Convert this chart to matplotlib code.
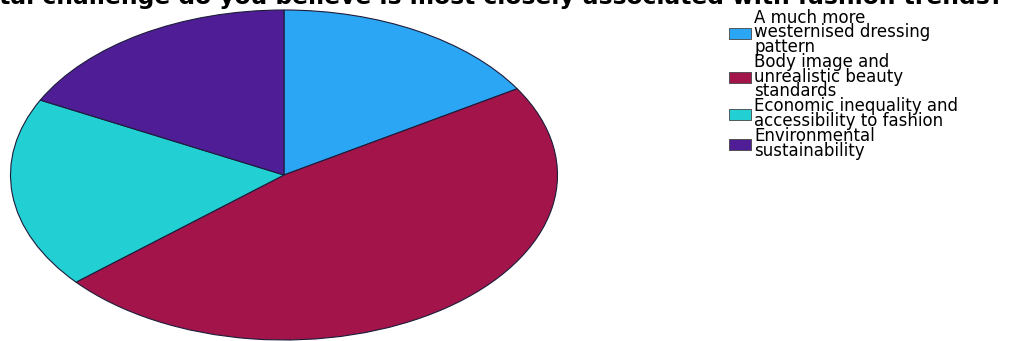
import matplotlib
matplotlib.use('Agg')
import matplotlib.pyplot as plt

TITLE = 'Which societal challenge do you believe is most closely associated with fashion trends?'

labels = [
    'A much more\nwesternised dressing\npattern',
    'Body image and\nunrealistic beauty\nstandards',
    'Economic inequality and\naccessibility to fashion',
    'Environmental\nsustainability',
]
counts = [13, 38, 15, 14]
colors = ['#2ba6f5', '#a3154a', '#22cfd2', '#4f1e96']


def main():
    fig = plt.figure(figsize=(10.09, 3.41), dpi=100)
    ax = fig.add_axes([10.5 / 1009, 1 / 341, 547 / 1009, 330 / 341])

    wedges, _ = ax.pie(counts, colors=colors, startangle=90, counterclock=False,
                       wedgeprops=dict(edgecolor='#1c1c3a', linewidth=0.8))
    # stretch the pie into the wide ellipse
    ax.set_aspect('auto')
    ax.set_xlim(-1, 1)
    ax.set_ylim(-1, 1)

    fig.text(1003 / 1009, 1 - 4 / 341, TITLE, ha='right', va='baseline',
             fontsize=16.8, fontweight='bold', color='black')

    leg = fig.legend(wedges, labels, loc='upper left',
                     bbox_to_anchor=(729 / 1009, 1 - 9 / 341),
                     frameon=False, fontsize=12, borderpad=0, borderaxespad=0,
                     handlelength=1.32, handleheight=0.66, handletextpad=0.18,
                     labelspacing=-0.15)
    for t in leg.get_texts():
        t.set_linespacing(0.74)
    for p in leg.get_patches():
        p.set_edgecolor('#444444')
        p.set_linewidth(0.6)

    fig.savefig('out.png', dpi=100)


if __name__ == '__main__':
    main()
